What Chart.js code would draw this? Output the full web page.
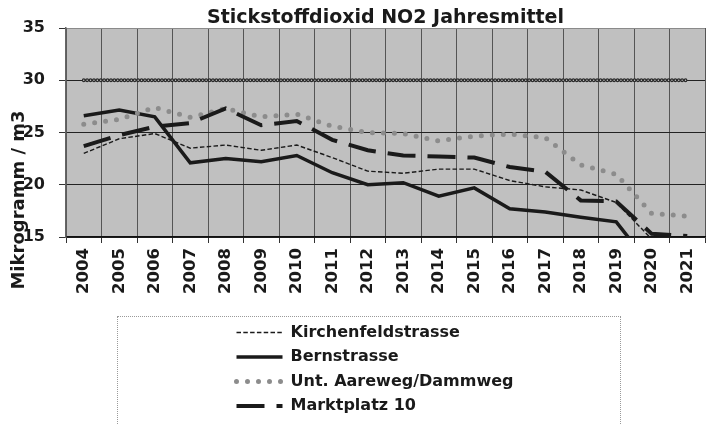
<!DOCTYPE html>
<html>
<head>
<meta charset="utf-8">
<script src="https://cdn.jsdelivr.net/npm/chart.js@4.4.1/dist/chart.umd.min.js"></script>
<style>
  body { margin: 0; background: #fff; width: 707px; height: 425px; overflow: hidden; position: relative; }
  #main { position: absolute; left: 0; top: 0; }
  #legendBox { position: absolute; left: 117px; top: 316px; width: 502px; height: 130px; border: 1px dotted #9a9a9a; }
  #leg { position: absolute; left: 110px; top: -1px; }
</style>
</head>
<body>
<canvas id="main" width="707" height="305"></canvas>
<div id="legendBox"><canvas id="leg" width="380" height="110"></canvas></div>
<script>
// Jahresmittel NO2, Werte
const years = ['2004', '2005', '2006', '2007', '2008', '2009', '2010', '2011', '2012',
               '2013', '2014', '2015', '2016', '2017', '2018', '2019', '2020', '2021'];
const kirchenfeld = [23.0, 24.4, 24.9, 23.5, 23.8, 23.3, 23.8, 22.6, 21.3, 21.1, 21.5, 21.5, 20.4, 19.8, 19.5, 18.3, 14.8, 14.5];
const bernstrasse = [26.6, 27.15, 26.5, 22.1, 22.5, 22.2, 22.8, 21.15, 20.0, 20.2, 18.9, 19.7, 17.7, 17.4, 16.9, 16.45, 12.1, 12.0];
const aareweg = [25.8, 26.25, 27.4, 26.45, 27.3, 26.5, 26.75, 25.6, 25.0, 24.9, 24.2, 24.65, 24.85, 24.5, 21.9, 21.0, 17.25, 17.0];
const marktplatz = [23.7, 24.75, 25.55, 25.9, 27.3, 25.7, 26.1, 24.3, 23.3, 22.8, 22.7, 22.6, 21.7, 21.25, 18.5, 18.4, 15.3, 15.1];
const grenzwert = [30, 30, 30, 30, 30, 30, 30, 30, 30, 30, 30, 30, 30, 30, 30, 30, 30, 30];
const yTicks = [15, 20, 25, 30, 35];

const FONT = 'DejaVu Sans';
const INK = '#1a1a1a';

const stations = [
    { label: 'Kirchenfeldstrasse', data: kirchenfeld, borderColor: INK, borderWidth: 1.4, borderDash: [4.5, 2.3] },
    { label: 'Bernstrasse', data: bernstrasse, borderColor: INK, borderWidth: 3.5 },
    { label: 'Unt. Aareweg/Dammweg', data: aareweg, borderColor: '#8c8c8c', borderWidth: 5, borderDash: [0, 11], borderCapStyle: 'round' },
    { label: 'Marktplatz 10', data: marktplatz, borderColor: INK, borderWidth: 4, borderDash: [28, 12] }
];

// Grenzwert 30: Kette aus kleinen Ringen
const limitRings = [
    { label: 'Grenzwert', data: grenzwert, borderColor: '#2a2a2a', borderWidth: 3.8, borderDash: [0, 3.4], borderCapStyle: 'round', order: 6 },
    { label: 'Grenzwert innen', data: grenzwert, borderColor: '#c8c8c8', borderWidth: 1.4, borderDash: [0, 3.4], borderCapStyle: 'round', order: 5 }
];

const plotBackground = {
    id: 'plotBackground',
    beforeDraw(chart) {
        const a = chart.chartArea;
        const ctx = chart.ctx;
        ctx.save();
        ctx.fillStyle = '#c0c0c0';
        ctx.fillRect(a.left, a.top, a.right - a.left, a.bottom - a.top);
        ctx.restore();
    }
};

const yTitle = {
    id: 'yTitle',
    afterDraw(chart) {
        const ctx = chart.ctx;
        ctx.save();
        ctx.translate(19, chart.chartArea.bottom - 37);
        ctx.rotate(-Math.PI / 2);
        ctx.font = 'bold 18px "' + FONT + '"';
        ctx.fillStyle = INK;
        ctx.textAlign = 'center';
        ctx.textBaseline = 'middle';
        ctx.fillText('Mikrogramm / m3', 0, 0);
        ctx.restore();
    }
};

new Chart(document.getElementById('main'), {
    type: 'line',
    data: {
        labels: years,
        datasets: stations.map((s, i) => Object.assign({ pointRadius: 0, tension: 0, fill: false, clip: 0, order: 4 - i }, s))
            .concat(limitRings.map(s => Object.assign({ pointRadius: 0, tension: 0, fill: false }, s)))
    },
    options: {
        responsive: false,
        animation: false,
        layout: { padding: { right: 2 } },
        plugins: {
            legend: { display: false },
            tooltip: { enabled: false },
            title: {
                display: true,
                text: 'Stickstoffdioxid NO2 Jahresmittel',
                fullSize: false,
                color: INK,
                font: { family: FONT, size: 19, weight: 'bold', lineHeight: 1 },
                padding: { top: 9, bottom: 0 }
            }
        },
        scales: {
            x: {
                offset: true,
                grid: { offset: true, color: '#555', lineWidth: 1, tickLength: 6, tickColor: '#333' },
                border: { color: '#111', width: 1.2 },
                ticks: { minRotation: 90, maxRotation: 90, autoSkip: false, padding: 5, color: INK,
                         font: { family: FONT, size: 16.5, weight: 'bold' } },
                afterFit(scale) { scale.height = 68; scale.paddingLeft = 0; scale.paddingRight = 0; }
            },
            y: {
                min: 15,
                max: 35,
                afterBuildTicks(scale) { scale.ticks = yTicks.map(v => ({ value: v })); },
                grid: { color: ctx => ctx.tick && ctx.tick.value === 35 ? '#8a8a8a' : '#222', lineWidth: 1, tickLength: 7, tickColor: '#333' },
                border: { color: '#666', width: 1.5 },
                ticks: { padding: 14, color: INK, font: { family: FONT, size: 16, weight: 'bold' } },
                afterFit(scale) { scale.width = 66; scale.paddingTop = 0; scale.paddingBottom = 0; }
            }
        }
    },
    plugins: [plotBackground, yTitle]
});

// Legende als eigenes Chart (senkrecht gestapelt), Linienmuster direkt aus den Datensaetzen
new Chart(document.getElementById('leg'), {
    type: 'line',
    data: { labels: [], datasets: stations.map(s => Object.assign({}, s, { data: [] })) },
    options: {
        responsive: false,
        animation: false,
        layout: { padding: { right: 0 } },
        scales: { x: { display: false }, y: { display: false } },
        plugins: {
            tooltip: { enabled: false },
            legend: {
                position: 'left',
                align: 'start',
                maxWidth: 360,
                labels: {
                    usePointStyle: true,
                    pointStyle: 'line',
                    pointStyleWidth: 46,
                    padding: 8.5,
                    color: INK,
                    font: { family: FONT, size: 16, weight: 'bold' },
                    generateLabels(chart) {
                        return chart.data.datasets.map((ds, i) => ({
                            text: ds.label,
                            datasetIndex: i,
                            fillStyle: ds.borderColor,
                            strokeStyle: ds.borderColor,
                            fontColor: INK,
                            lineWidth: ds.borderWidth,
                            lineDash: ds.borderDash || [],
                            lineCap: ds.borderCapStyle || 'butt',
                            pointStyle: 'line',
                            hidden: false
                        }));
                    }
                }
            }
        }
    }
});
</script>
</body>
</html>
